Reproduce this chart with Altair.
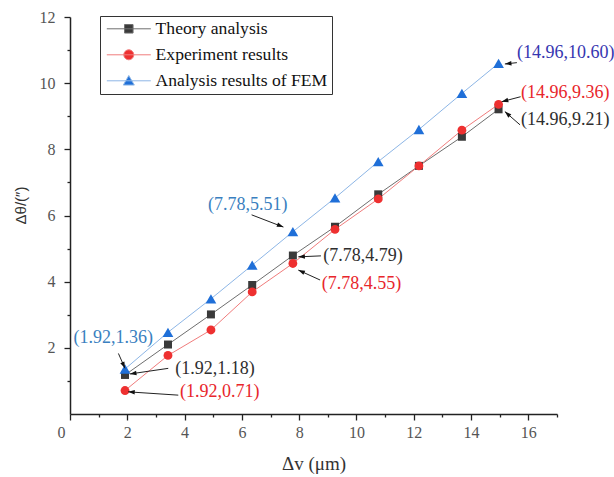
import math
import altair as alt
import pandas as pd

# ---------------- data ----------------
x_vals = [1.92, 3.42, 4.92, 6.36, 7.78, 9.25, 10.76, 12.18, 13.68, 14.96]
theory = [1.18, 2.10, 3.01, 3.90, 4.79, 5.66, 6.64, 7.50, 8.38, 9.21]
experiment = [0.71, 1.77, 2.54, 3.69, 4.55, 5.58, 6.50, 7.50, 8.58, 9.36]
fem = [1.36, 2.47, 3.48, 4.50, 5.51, 6.53, 7.63, 8.60, 9.69, 10.60]

series_names = ["Theory analysis", "Experiment results", "Analysis results of FEM"]
marker_colors = ["#3a3a3a", "#ee3030", "#1f6fd8"]
line_colors = ["#6e6e6e", "#f07c7c", "#8db6e6"]
shapes = ["square", "circle", "triangle-up"]
sizes = [64, 78, 115]

# annotations: label, colour, text anchor (left, middle), arrow tail, arrow head
ann_text = ["(14.96,10.60)", "(14.96,9.36)", "(14.96,9.21)",
            "(7.78,5.51)", "(7.78,4.79)", "(7.78,4.55)",
            "(1.92,1.36)", "(1.92,1.18)", "(1.92,0.71)"]
ann_color = ["#3636b0", "#e8262b", "#2e2e2e",
             "#3a7fc0", "#2e2e2e", "#e8262b",
             "#3a7fc0", "#2e2e2e", "#e8262b"]
ann_tx = [15.60, 15.74, 15.74, 4.82, 8.84, 8.79, 0.12, 3.67, 3.84]
ann_ty = [10.91, 9.71, 8.89, 6.32, 4.78, 3.92, 2.30, 1.35, 0.67]
tail_x = [15.60, 15.73, 15.71, 6.34, 8.76, 8.73, 1.69, 3.43, 3.78]
tail_y = [10.62, 9.59, 8.74, 6.02, 4.78, 4.05, 1.83, 1.38, 0.57]
head_x = [15.18, 15.07, 15.18, 7.45, 7.97, 7.97, 1.92, 2.09, 2.03]
head_y = [10.58, 9.44, 9.14, 5.65, 4.75, 4.35, 1.38, 1.21, 0.67]

W, H = 487, 397
XMAX, YMAX = 17, 12
SERIF = "Times New Roman, Liberation Serif, serif"

rows = []
for name, ys in zip(series_names, [theory, experiment, fem]):
    for xv, yv in zip(x_vals, ys):
        rows.append({"x": xv, "y": yv, "series": name})
df = pd.DataFrame(rows)

ann_rows = []
for i in range(len(ann_text)):
    dxp = (head_x[i] - tail_x[i]) * W / XMAX
    dyp = -(head_y[i] - tail_y[i]) * H / YMAX
    ang = math.degrees(math.atan2(dxp, -dyp)) % 360
    ann_rows.append({"label": ann_text[i], "color": ann_color[i],
                     "tx": ann_tx[i], "ty": ann_ty[i],
                     "x1": tail_x[i], "y1": tail_y[i],
                     "x2": head_x[i], "y2": head_y[i], "angle": ang})
adf = pd.DataFrame(ann_rows)

# ---------------- scales / axes ----------------
xscale = alt.Scale(domain=[0, XMAX], nice=False, zero=False)
yscale = alt.Scale(domain=[0, YMAX], nice=False, zero=False)

xaxis = alt.Axis(
    values=list(range(0, 18)),
    labelExpr="datum.value % 2 === 0 && datum.value <= 16 ? datum.label : ''",
    labelOffset={"condition": {"test": "datum.value === 0", "value": -9}, "value": 0},
    tickSize={"condition": {"test": "datum.value % 2 === 0", "value": 6}, "value": 3},
    grid=False, domainColor="#222", domainWidth=1.5, tickColor="#222", tickWidth=1.3,
    labelFont=SERIF, labelFontSize=16, labelColor="#555", labelPadding=4,
    labelFlush=False, labelOverlap=False,
    titleFont=SERIF, titleFontSize=19, titleFontWeight="normal", titleColor="#333",
    titleY=49, titleBaseline="middle",
)
yaxis = alt.Axis(
    values=list(range(1, 13)),
    labelExpr="datum.value % 2 === 0 ? datum.label : ''",
    tickSize={"condition": {"test": "datum.value % 2 === 0", "value": 6}, "value": 3},
    grid=False, domainColor="#222", domainWidth=1.5, tickColor="#222", tickWidth=1.3,
    labelFont=SERIF, labelFontSize=16, labelColor="#555", labelPadding=9,
    labelOverlap=False, labelFlush=False,
    titleFont="Liberation Sans", titleFontSize=15, titleFontWeight="normal", titleColor="#333",
    titleX=-50, titleY=188, titleBaseline="middle", titleAngle=270,
)

XT = "\u0394v (\u03bcm)"
YT = "\u0394\u03b8/(\u2033)"

def X(f):
    return alt.X(f"{f}:Q", scale=xscale, axis=xaxis, title=XT)

def Y(f):
    return alt.Y(f"{f}:Q", scale=yscale, axis=yaxis, title=YT)

LINE = "M-4.4,0H4.4"
legend_paths = [
    LINE + "M-0.85,-0.85H0.85V0.85H-0.85Z",
    LINE + "M-1,0A1,1 0 1,0 1,0A1,1 0 1,0 -1,0Z",
    LINE + "M0,-1.05L1.1,0.85L-1.1,0.85Z",
]

legend = alt.Legend(
    orient="none", legendX=30, legendY=-1, title=None,
    strokeColor="#333", fillColor="white", padding=4, cornerRadius=0,
    labelFont=SERIF, labelFontSize=17.6, labelColor="#111", labelLimit=0,
    symbolSize=100, symbolOffset=16, labelOffset=18, rowPadding=7,
    symbolStrokeWidth=1, symbolOpacity=1,
)

fill_scale = alt.Scale(domain=series_names, range=marker_colors)
stroke_scale = alt.Scale(domain=series_names, range=line_colors)

base = alt.Chart(df)

lines = base.mark_line(strokeWidth=1).encode(
    x=X("x"), y=Y("y"),
    stroke=alt.Stroke("series:N", scale=stroke_scale, legend=legend, title=None),
    order="x:Q",
)

point_layers = []
for name, shp, sz in zip(series_names, shapes, sizes):
    point_layers.append(
        base.transform_filter(alt.datum.series == name)
        .mark_point(filled=True, opacity=1, shape=shp, size=sz)
        .encode(x=X("x"), y=Y("y"),
                fill=alt.Fill("series:N", scale=fill_scale, legend=legend, title=None))
    )

legend_layer = base.mark_point(filled=True, opacity=0).encode(
    x=X("x"), y=Y("y"),
    fill=alt.Fill("series:N", scale=fill_scale, legend=legend, title=None),
    stroke=alt.Stroke("series:N", scale=stroke_scale, legend=legend, title=None),
    shape=alt.Shape("series:N", scale=alt.Scale(domain=series_names, range=legend_paths),
                    legend=legend, title=None),
)

abase = alt.Chart(adf)
rules = abase.mark_rule(color="#222", strokeWidth=1).encode(
    x=X("x1"), y=Y("y1"), x2="x2:Q", y2="y2:Q",
)
heads = abase.mark_point(filled=True, color="#111", opacity=1, size=36,
                         shape="M0,0L-0.75,2.2L0.75,2.2Z").encode(
    x=X("x2"), y=Y("y2"), angle=alt.Angle("angle:Q", scale=None),
)
texts = abase.mark_text(align="left", baseline="middle", font=SERIF, fontSize=18).encode(
    x=X("tx"), y=Y("ty"), text="label:N", color=alt.Color("color:N", scale=None),
)

chart = alt.layer(lines, *point_layers, legend_layer, rules, heads, texts).properties(
    width=W, height=H,
    autosize=alt.AutoSizeParams(type="none"),
    padding={"left": 70, "top": 17, "right": 57, "bottom": 63},
).configure_view(stroke=None)

chart.save("out.html", embed_options={"renderer": "svg", "actions": False})
